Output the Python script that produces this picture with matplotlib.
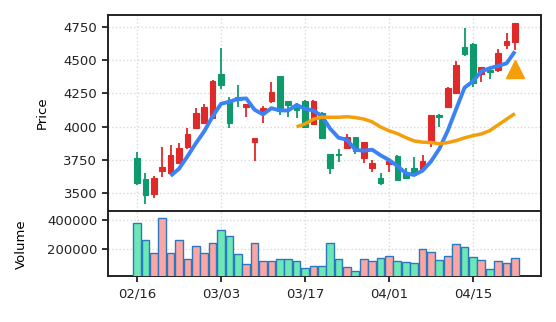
import matplotlib
matplotlib.use("Agg")
import matplotlib.pyplot as plt
import numpy as np
import pandas as pd

# ---- data ----
opens = [3762, 3604, 3495, 3669, 3649, 3729, 3843, 3989, 4024, 4065,
         4397, 4190, 4220, 4145, 3886, 4115, 4190, 4379, 4190, 4137,
         4196, 4019, 4100, 3793, 3797, 3838, 3923, 3767, 3691, 3611,
         3717, 3777, 3649, 3687, 3679, 3888, 4087, 4150, 4256, 4598,
         4624, 4397, 4422, 4427, 4616, 4632]
closes = [3573, 3483, 3611, 3697, 3785, 3840, 3944, 4103, 4148, 4344,
          4316, 4027, 4201, 4171, 3918, 4140, 4261, 4120, 4165, 4125,
          3999, 4196, 3915, 3687, 3785, 3923, 3817, 3883, 3724, 3576,
          3744, 3596, 3611, 3654, 3740, 4087, 4075, 4291, 4465, 4546,
          4326, 4447, 4409, 4553, 4641, 4775]
highs = [3810, 3649, 3629, 3848, 3863, 3878, 3986, 4140, 4171, 4350,
         4589, 4226, 4316, 4171, 3918, 4155, 4332, 4379, 4190, 4175,
         4200, 4200, 4112, 3793, 3833, 3944, 3923, 3883, 3747, 3649,
         3767, 3785, 3687, 3772, 3785, 4090, 4095, 4295, 4490, 4742,
         4630, 4447, 4422, 4586, 4700, 4780]
lows = [3563, 3419, 3460, 3623, 3641, 3720, 3835, 3980, 4016, 4060,
        4281, 3986, 4145, 4075, 3744, 4024, 4175, 4090, 4069, 4062,
        3995, 4015, 3910, 3641, 3737, 3838, 3797, 3729, 3661, 3563,
        3661, 3590, 3611, 3641, 3666, 3850, 3994, 4145, 4250, 4530,
        4301, 4334, 4360, 4409, 4586, 4579]
volumes = [381200, 264800, 172100, 416000, 172100, 264800, 132400, 223000, 172100, 241800,
           334500, 292700, 165200, 95500, 241800, 116400, 120600, 130300, 130300, 116400,
           67600, 81500, 81500, 241800, 130300, 74600, 46700, 130300, 116400, 137300,
           155400, 116400, 109400, 102400, 200000, 179100, 123300, 155400, 239000, 213900,
           144300, 123300, 62700, 116400, 102400, 137300]
tick_pos = [0, 10, 20, 30, 40]
tick_labels = ["02/16", "03/03", "03/17", "04/01", "04/15"]
signal_idx = [45]
signal_val = [4430]

UP = "#e02a2a"
DOWN = "#0e9a6c"
UP_V = "#fca5a5"
DOWN_V = "#6ee7b7"

plt.rcParams["font.family"] = ["DejaVu Sans"]
plt.rcParams["font.size"] = 9.5

fig = plt.figure(figsize=(5.56, 3.22), dpi=100)
ax = fig.add_axes([0.195, 0.344, 0.778, 0.610])
axv = fig.add_axes([0.195, 0.142, 0.778, 0.2015], sharex=ax)

x = np.arange(len(closes))
o = np.array(opens); c = np.array(closes)
up = c >= o
cols = [UP if u else DOWN for u in up]
vcols = [UP_V if u else DOWN_V for u in up]

ax.vlines(x, lows, highs, colors=cols, linewidth=1.3, zorder=2)
body_lo = np.minimum(o, c)
body_h = np.abs(c - o)
ax.bar(x, body_h, bottom=body_lo, width=0.68, color=cols, edgecolor=cols,
       linewidth=0.8, zorder=3)

close_s = pd.Series(closes, dtype=float)
ma5 = close_s.rolling(5).mean()
ma20 = close_s.rolling(20).mean()
ax.plot(x, ma5, color="#3b82f6", linewidth=2.8, zorder=4, solid_capstyle="butt")
ax.plot(x, ma20, color="#f59e0b", linewidth=2.5, zorder=4, solid_capstyle="butt")
ax.plot(signal_idx, signal_val, marker="^", color="#f59e0b", markersize=13,
        linestyle="none", zorder=5)

ax.set_ylim(3364, 4840)
ax.set_yticks([3500, 3750, 4000, 4250, 4500, 4750])
ax.set_ylabel("Price", labelpad=10.5)
ax.set_xlim(-3.4, 48.1)
ax.tick_params(axis="x", bottom=False, labelbottom=False)
ax.grid(True, linestyle=":", color="#d9d9d9", linewidth=1.0)
ax.set_axisbelow(True)
ax.spines["bottom"].set_visible(False)

axv.bar(x, volumes, width=0.92, color=vcols, edgecolor="#2a78bd", linewidth=1.0, zorder=3)
axv.set_ylim(12000, 462000)
axv.set_yticks([200000, 400000])
axv.set_yticklabels(["200000", "400000"])
axv.set_ylabel("Volume", labelpad=14)
axv.set_xticks(tick_pos)
axv.set_xticklabels(tick_labels)
axv.grid(True, linestyle=":", color="#d9d9d9", linewidth=1.0)
axv.set_axisbelow(True)

for a in (ax, axv):
    for s in a.spines.values():
        s.set_linewidth(1.4)
        s.set_color("#222222")
    a.tick_params(width=1.3, length=4.5, colors="#222222", labelcolor="#222222")

fig.savefig("out.png", dpi=100)
